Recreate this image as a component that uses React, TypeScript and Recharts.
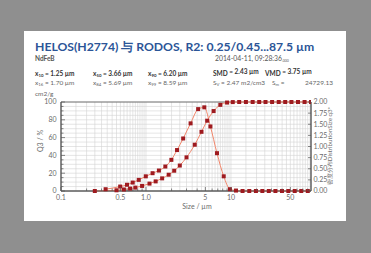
import React from "react";
import {
  LineChart,
  Line,
  XAxis,
  YAxis,
  CartesianGrid,
  ReferenceArea,
} from "recharts";

// ---- data ----
const sizeLimits = [
  0.25, 0.45, 0.55, 0.65, 0.75, 0.9, 1.1, 1.3, 1.55, 1.85, 2.15, 2.5, 3, 3.75,
  4.5, 5.25, 6.25, 7.5, 9, 10.5, 12.5, 15, 18, 21.5, 25.5, 30.5, 36.5, 43.5,
  51.5, 61.5, 73.5, 87.5,
];
const cumulativeQ3 = [
  0, 0.8, 1.7, 2.7, 3.8, 5.7, 8.3, 10.8, 14.2, 18.3, 22.8, 28.6, 37.8, 52.0,
  66.5, 79.0, 89.8, 96.8, 99.4, 99.9, 100, 100, 100, 100, 100, 100, 100, 100,
  100, 100, 100, 100,
];
const classMids = [
  0.335, 0.497, 0.598, 0.698, 0.822, 0.995, 1.196, 1.42, 1.69, 1.99, 2.32,
  2.74, 3.35, 4.11, 4.86, 5.73, 6.85, 8.22, 9.72, 11.46, 13.69, 16.43, 19.67,
  23.41, 27.89, 33.37, 39.85, 47.33, 56.28, 67.23, 80.2,
];
const densityQ3 = [
  0.04, 0.1, 0.14, 0.19, 0.25, 0.33, 0.4, 0.46, 0.55, 0.7, 0.92, 1.18, 1.52,
  1.84, 1.88, 1.45, 0.85, 0.33, 0.04, 0.01, 0, 0, 0, 0, 0, 0, 0, 0, 0, 0, 0,
];

const xTicks = [
  0.1, 0.2, 0.3, 0.4, 0.5, 0.6, 0.7, 0.8, 0.9, 1, 2, 3, 4, 5, 6, 7, 8, 9, 10,
  20, 30, 40, 50, 60, 70, 80,
];
const xLabelled = [0.1, 0.5, 1, 5, 10, 50];
const xLabelText: Record<string, string> = {
  "0.1": "0.1",
  "0.5": "0.5",
  "1": "1.0",
  "5": "5",
  "10": "10",
  "50": "50",
};
const gridX = [
  0.15, 0.2, 0.25, 0.3, 0.35, 0.4, 0.45, 0.5, 0.55, 0.6, 0.65, 0.7, 0.75, 0.8,
  0.85, 0.9, 0.95, 1, 1.5, 2, 2.5, 3, 3.5, 4, 4.5, 5, 5.5, 6, 6.5, 7, 7.5, 8,
  8.5, 9, 9.5, 10, 15, 20, 25, 30, 35, 40, 45, 50, 55, 60, 65, 70, 75, 80, 85,
];
const leftTicks = [
  0, 5, 10, 15, 20, 25, 30, 35, 40, 45, 50, 55, 60, 65, 70, 75, 80, 85, 90, 95,
  100,
];
const leftLabelled = [0, 20, 40, 60, 80, 100];
const rightTicks = [0, 0.25, 0.5, 0.75, 1, 1.25, 1.5, 1.75, 2];

const cumData = sizeLimits.map((x, i) => ({ x, q: cumulativeQ3[i] }));
const densData = classMids.map((x, i) => ({ x, d: densityQ3[i] }));

const FONT = "Lato, 'Open Sans', sans-serif";
const LINE = "#f2866a";
const DOT = "#9e1a1f";
const AXIS = "#555";
const LABEL = "#6b6b6b";

const XTick = (p: any) => {
  const v = p.payload.value;
  const major = xLabelled.includes(v);
  return (
    <g>
      <line x1={p.x} x2={p.x} y1={p.y} y2={p.y - (major ? 4 : 2.5)} stroke={AXIS} strokeWidth={0.7} />
      {major && (
        <text x={p.x} y={p.y + 9} textAnchor="middle" fontSize={7} fill={LABEL} fontFamily={FONT}>
          {xLabelText[String(v)]}
        </text>
      )}
    </g>
  );
};

const LTick = (p: any) => {
  const v = p.payload.value;
  const major = leftLabelled.includes(v);
  return (
    <g>
      <line x1={p.x} x2={p.x + (major ? 4 : 2.5)} y1={p.y} y2={p.y} stroke={AXIS} strokeWidth={0.7} />
      {major && (
        <text x={p.x - 4.5} y={p.y + 2.4} textAnchor="end" fontSize={7} fill={LABEL} fontFamily={FONT}>
          {v}
        </text>
      )}
    </g>
  );
};

const RTick = (p: any) => {
  const v = p.payload.value;
  return (
    <g>
      <line x1={p.x - 3} x2={p.x} y1={p.y} y2={p.y} stroke={AXIS} strokeWidth={0.7} />
      <text x={p.x + 2.5} y={p.y + 2.4} textAnchor="start" fontSize={7} fill={LABEL} fontFamily={FONT}>
        {v.toFixed(2)}
      </text>
    </g>
  );
};

const squareDot = (p: any) => (
  <rect
    key={`d-${p.index}`}
    x={p.cx - 2}
    y={p.cy - 2}
    width={4}
    height={4}
    fill={DOT}
  />
);

const Stat = ({ x, y, name, sub, value, bold }: any) => (
  <text x={x} y={y} fontSize={6.5} fontFamily={FONT} fill={bold ? "#333" : "#666"} fontWeight={bold ? 700 : 400}>
    <tspan>{name}</tspan>
    <tspan fontSize={4.3} dy={1.4}>{sub}</tspan>
    <tspan dy={-1.4}>{value}</tspan>
  </text>
);

export default function App() {
  return (
    <div
      style={{
        position: "fixed",
        left: 0,
        top: 0,
        width: 371,
        height: 253,
        background: "#8f8f8f",
        overflow: "hidden",
      }}
    >
      <div
        style={{
          position: "absolute",
          left: 24,
          top: 31,
          width: 322,
          height: 190,
          background: "#ffffff",
        }}
      />
      <svg
        width={371}
        height={253}
        style={{ position: "absolute", left: 0, top: 0 }}
      >
        <text x={35} y={51} fontSize={12.2} fontWeight={700} fill="#2b5597" fontFamily={FONT}>
          HELOS(H2774) 与 RODOS, R2: 0.25/0.45...87.5 µm
        </text>
        <text x={35} y={60.5} fontSize={6.5} fontWeight={700} fill="#555" fontFamily={FONT}>
          NdFeB
        </text>
        <text x={215} y={60.5} fontSize={6.8} fill="#555" fontFamily={FONT}>
          2014-04-11, 09:28:36
          <tspan fontSize={3.5} dy={1}>.000</tspan>
        </text>
        <Stat x={35} y={75.5} name="x" sub="10" value=" = 1.25 µm" bold />
        <Stat x={93} y={75.5} name="x" sub="50" value=" = 3.66 µm" bold />
        <Stat x={148} y={75.5} name="x" sub="90" value=" = 6.20 µm" bold />
        <Stat x={213} y={75.5} name="SMD" sub="" value=" = 2.43 µm" bold />
        <Stat x={265} y={75.5} name="VMD" sub="" value=" = 3.75 µm" bold />
        <Stat x={35} y={84.5} name="x" sub="16" value=" = 1.70 µm" />
        <Stat x={93} y={84.5} name="x" sub="84" value=" = 5.69 µm" />
        <Stat x={148} y={84.5} name="x" sub="99" value=" = 8.59 µm" />
        <Stat x={213} y={84.5} name="S" sub="V" value="   = 2.47 m2/cm3" />
        <Stat x={272} y={84.5} name="S" sub="m" value="    =" />
        <text x={333} y={84.5} textAnchor="end" fontSize={6.5} fill="#666" fontFamily={FONT}>
          24729.13
        </text>
        <text x={35} y={96} fontSize={6.5} fill="#666" fontFamily={FONT}>
          cm2/g
        </text>
        <text
          x={0}
          y={0}
          transform="translate(43,141) rotate(-90)"
          textAnchor="middle"
          fontSize={7}
          fill={LABEL}
          fontFamily={FONT}
        >
          Q3 / %
        </text>
        <text
          x={0}
          y={0}
          transform="translate(332,146) rotate(-90)"
          textAnchor="middle"
          fontSize={6.2}
          fill={LABEL}
          fontFamily={FONT}
        >
          密度分布DistributionSize q3*
        </text>
        <text x={197} y={209} textAnchor="middle" fontSize={7} fill={LABEL} fontFamily={FONT}>
          Size / µm
        </text>
      </svg>
      <div style={{ position: "absolute", left: 0, top: 0 }}>
        <LineChart
          width={371}
          height={253}
          margin={{ top: 102, right: 0, bottom: 42, left: 0 }}
        >
          <CartesianGrid
            xAxisId="x"
            yAxisId="q"
            verticalValues={gridX}
            horizontalValues={leftTicks}
            stroke="#d4d4d4"
            strokeWidth={0.6}
          />
          <XAxis
            xAxisId="x"
            dataKey="x"
            type="number"
            scale="log"
            domain={[0.1, 87.5]}
            allowDataOverflow
            ticks={xTicks}
            tick={<XTick />}
            tickLine={false}
            tickSize={0}
            tickMargin={0}
            interval={0}
            height={20}
            stroke={AXIS}
          />
          <YAxis
            yAxisId="q"
            orientation="left"
            type="number"
            domain={[0, 100]}
            ticks={leftTicks}
            tick={<LTick />}
            tickLine={false}
            tickSize={0}
            tickMargin={0}
            interval={0}
            width={61}
            stroke={AXIS}
          />
          <YAxis
            yAxisId="d"
            orientation="right"
            type="number"
            domain={[0, 2]}
            ticks={rightTicks}
            tick={<RTick />}
            tickLine={false}
            tickSize={0}
            tickMargin={0}
            interval={0}
            width={60}
            stroke={AXIS}
          />
          <ReferenceArea
            xAxisId="x"
            yAxisId="q"
            x1={0.1}
            x2={87.5}
            y1={0}
            y2={100}
            fill="none"
            stroke={AXIS}
            strokeWidth={0.8}
          />
          <Line
            xAxisId="x"
            yAxisId="q"
            data={cumData}
            dataKey="q"
            type="monotone"
            stroke={LINE}
            strokeWidth={1}
            dot={squareDot}
            isAnimationActive={false}
          />
          <Line
            xAxisId="x"
            yAxisId="d"
            data={densData}
            dataKey="d"
            type="monotone"
            stroke={LINE}
            strokeWidth={1}
            dot={squareDot}
            isAnimationActive={false}
          />
        </LineChart>
      </div>
    </div>
  );
}
